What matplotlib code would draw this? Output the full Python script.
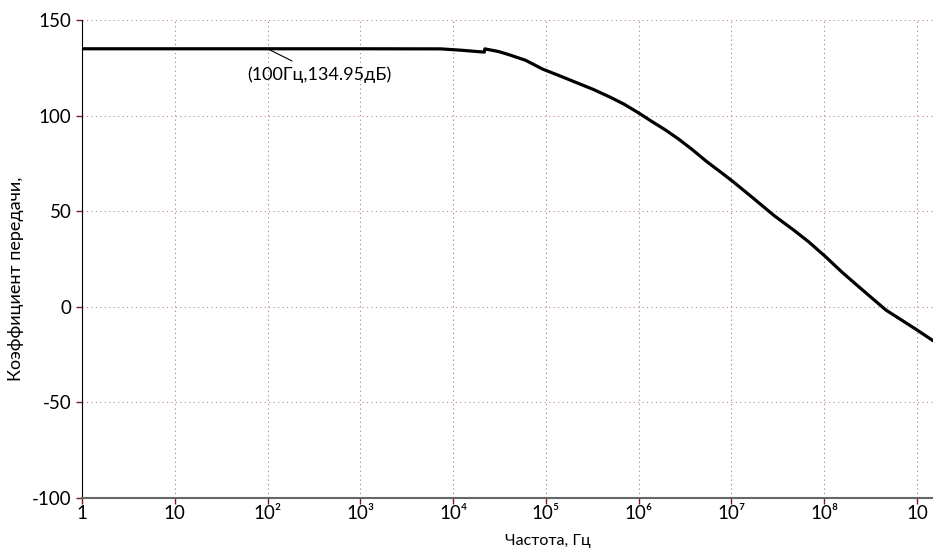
import matplotlib
matplotlib.use('Agg')
import matplotlib.pyplot as plt
from matplotlib.ticker import FixedLocator, FixedFormatter, NullLocator

plt.rcParams['font.family'] = ['Lato', 'DejaVu Sans']
plt.rcParams['axes.unicode_minus'] = False

# АЧХ: частота, Гц и коэффициент передачи, дБ
freq = [1, 10, 100, 1e3, 7.36e3, 1.22e4, 2.17e4, 2.2e4, 3.09e4, 3.98e4,
        6.07e4, 9.25e4, 1.41e5, 2.15e5, 3.28e5, 5.0e5, 7.01e5, 1.03e6,
        1.38e6, 1.93e6, 2.70e6, 3.79e6, 5.31e6, 7.45e6, 1.04e7, 1.73e7,
        2.87e7, 4.76e7, 6.68e7, 1.02e8, 1.55e8, 2.37e8, 3.61e8, 4.66e8,
        6.52e8, 1e9, 1.49e9]
gain = [134.95, 134.95, 134.95, 134.95, 134.9, 134.2, 133.2, 134.9, 133.5,
        131.9, 128.9, 124.3, 120.8, 117.2, 113.6, 109.5, 105.9, 101.0,
        97.0, 92.6, 87.7, 82.2, 76.3, 70.9, 65.5, 56.7, 47.8, 39.9, 34.3,
        26.5, 18.2, 10.4, 2.8, -1.8, -6.3, -12.1, -17.7]

x_ticks = [1, 10, 1e2, 1e3, 1e4, 1e5, 1e6, 1e7, 1e8, 1e9]
x_labels = ['1', '10', '10²', '10³', '10⁴', '10⁵', '10⁶', '10⁷', '10⁸', '10']
y_ticks = [-100, -50, 0, 50, 100, 150]

fig = plt.figure(figsize=(9.33, 5.51), dpi=100)
ax = fig.add_axes([0.0879, 0.0962, 0.9121, 0.8675])

ax.plot(freq, gain, color='black', lw=2.3, solid_joinstyle='round')

ax.set_xscale('log')
ax.set_xlim(1, 1.49e9)
ax.set_ylim(-100, 150)
ax.xaxis.set_major_locator(FixedLocator(x_ticks))
ax.xaxis.set_major_formatter(FixedFormatter(x_labels))
ax.xaxis.set_minor_locator(NullLocator())
ax.set_yticks(y_ticks)

ax.grid(True, axis='x', color='#b05a5a', ls=(0, (1, 3)), lw=0.8, alpha=0.85)
ax.grid(True, axis='y', color='#b07878', ls=(0, (1, 3)), lw=0.8, alpha=0.85)

for s in ['top', 'right']:
    ax.spines[s].set_visible(False)
ax.spines['left'].set_color('black')
ax.spines['bottom'].set_color('#666666')
ax.spines['bottom'].set_linewidth(1.5)
ax.tick_params(axis='both', colors='#7a1a1a', length=4, width=1,
               labelcolor='black', labelsize=13.5)
ax.tick_params(axis='x', pad=1)

ax.set_xlabel('Частота, Гц', fontsize=11.5, labelpad=9)
ax.set_ylabel('Коэффициент передачи,', fontsize=13, labelpad=6)
ax.xaxis.label.set_x(0.548)
ax.yaxis.label.set_y(0.459)

ax.annotate('(100Гц,134.95дБ)', xy=(100, 134.95), xytext=(3.6e2, 121.5),
            fontsize=13, ha='center', va='center',
            arrowprops=dict(arrowstyle='-', color='black', lw=0.8,
                            shrinkA=4, shrinkB=0))

fig.savefig('out.png', dpi=100)
